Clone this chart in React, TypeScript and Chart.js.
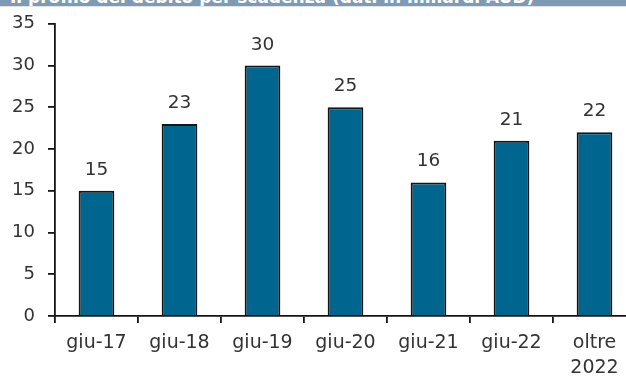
import React, { useEffect, useRef } from "react";
import { Chart, registerables } from "chart.js";

Chart.register(...registerables);

const TITLE = "Il profilo del debito per scadenza (dati in miliardi AUD)";
const categories: (string | string[])[] = ["giu-17", "giu-18", "giu-19", "giu-20", "giu-21", "giu-22", ["oltre", "2022"]];
const values: number[] = [15, 23, 30, 25, 16, 21, 22];
const yMin = 0;
const yMax = 35;
const yStep = 5;

const FONT = "'DejaVu Sans', 'Open Sans', sans-serif";
const TEXT = "#333333";

const valueLabels = {
  id: "valueLabels",
  afterDatasetsDraw(chart: any) {
    const ctx = chart.ctx;
    const meta = chart.getDatasetMeta(0);
    ctx.save();
    ctx.font = `18.5px ${FONT}`;
    ctx.fillStyle = TEXT;
    ctx.textAlign = "center";
    ctx.textBaseline = "alphabetic";
    meta.data.forEach((el: any, i: number) => {
      ctx.fillText(String(values[i]), el.x, el.y - 16);
    });
    ctx.restore();
  },
};

export default function App() {
  const ref = useRef<HTMLCanvasElement | null>(null);
  useEffect(() => {
    if (!ref.current) return;
    const chart = new Chart(ref.current, {
      type: "bar",
      data: {
        labels: categories,
        datasets: [
          {
            data: values,
            backgroundColor: "#00668f",
            borderColor: "#151515",
            borderWidth: 2,
            categoryPercentage: 1,
            barPercentage: 0.43,
          },
        ],
      },
      options: {
        responsive: false,
        animation: false,
        devicePixelRatio: 1,
        layout: { padding: { top: 19.5, left: 0, right: 0, bottom: 0 } },
        plugins: { legend: { display: false }, tooltip: { enabled: false }, title: { display: false } },
        scales: {
          x: {
            grid: { display: true, drawOnChartArea: false, tickLength: 7, color: "#151515", lineWidth: 1.8, offset: true },
            border: { display: true, color: "#151515", width: 1.8 },
            ticks: {
              font: { family: FONT, size: 19, lineHeight: 1.35 },
              color: TEXT,
              padding: 7,
              maxRotation: 0,
              autoSkip: false,
            },
            afterFit: (s: any) => {
              s.height = 60;
            },
          },
          y: {
            min: yMin,
            max: yMax,
            grid: { display: true, drawOnChartArea: false, tickLength: 7, color: "#151515", lineWidth: 1.8 },
            border: { display: true, color: "#151515", width: 1.8 },
            ticks: { stepSize: yStep, font: { family: FONT, size: 18 }, color: TEXT, padding: 13 },
            afterFit: (s: any) => {
              s.width = 55;
            },
          },
        },
      },
      plugins: [valueLabels],
    });
    return () => chart.destroy();
  }, []);

  return (
    <div style={{ position: "fixed", left: 0, top: 0, width: 626, height: 376, overflow: "hidden", background: "#fff" }}>
      <canvas ref={ref} width={636} height={376} style={{ position: "absolute", left: 0, top: 0, width: 636, height: 376 }} />
      <div
        style={{
          position: "absolute",
          left: 0,
          top: 0,
          width: 626,
          height: 6,
          overflow: "hidden",
          background: "#7f9bb3",
          borderBottom: "1px solid #dde5ec",
        }}
      >
        <div
          style={{
            position: "absolute",
            left: 10,
            top: -13,
            whiteSpace: "nowrap",
            color: "#ffffff",
            fontFamily: FONT,
            fontWeight: "bold",
            fontSize: 17,
            lineHeight: "20px",
          }}
        >
          {TITLE}
        </div>
      </div>
    </div>
  );
}
